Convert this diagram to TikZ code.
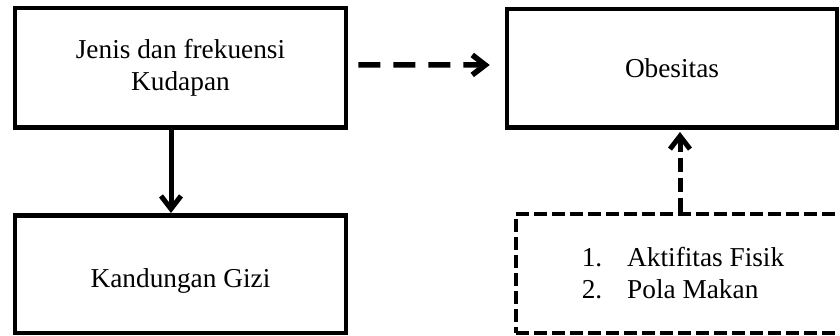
\documentclass[tikz,border=0pt]{standalone}
\usepackage{fontspec}
\setmainfont{Liberation Serif}
\usetikzlibrary{arrows.meta}

\begin{document}
\begin{tikzpicture}[x=1pt,y=-1pt,
  kotak/.style={draw,line width=4.5pt,inner sep=0pt,font=\fontsize{27.3}{32}\selectfont,align=center},
  panah/.style={line width=5pt,-{Straight Barb[length=13pt,width=20pt]}}]
\useasboundingbox (0,0) rectangle (840,335);
\clip (0,0) rectangle (840,335);
\node[kotak,minimum width=331pt,minimum height=119.5pt] (jenis) at (180.5,67.75) {Jenis dan frekuensi\\Kudapan};
\node[kotak,minimum width=331pt,minimum height=117.5pt,text height=32pt] (kandungan) at (180.5,274) {Kandungan Gizi};
\node[kotak,minimum width=330pt,minimum height=118.5pt] (obes) at (672,68) {Obesitas};
\node[kotak,dash pattern=on 13pt off 5pt,minimum width=334pt,minimum height=119pt,align=left] (faktor) at (683,273.5) {1.\hspace{25pt}Aktifitas Fisik\\2.\hspace{25pt}Pola Makan};
\draw[panah] ([xshift=-9.5pt]jenis.south) -- ([xshift=-9.5pt]kandungan.north);
\draw[panah,line width=5.5pt,dash pattern=on 22pt off 13pt,shorten <=10pt,shorten >=15pt] ([yshift=3pt]jenis.east) -- ([yshift=3pt]obes.west);
\draw[panah,dash pattern=on 14pt off 6pt,shorten >=2.5pt] ([xshift=-3pt]faktor.north) -- ([xshift=8pt]obes.south);
\end{tikzpicture}
\end{document}
